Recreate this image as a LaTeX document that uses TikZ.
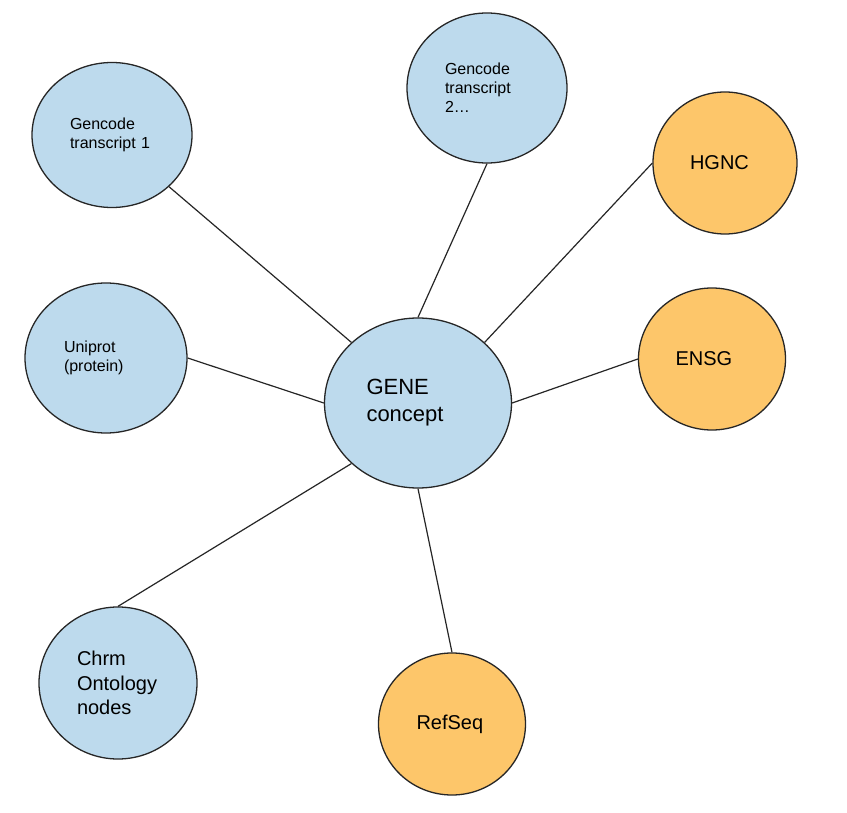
\documentclass[tikz,border=0pt]{standalone}
\usepackage{fontspec}
\setmainfont{Liberation Sans}
\usetikzlibrary{shapes.geometric}
\definecolor{geneblue}{RGB}{189,218,237}
\definecolor{sourceorange}{RGB}{253,198,106}

\begin{document}
\begin{tikzpicture}[x=1pt,y=-1pt]
	\tikzstyle{place}=[ellipse, draw=black!85, line width=1.3pt, inner sep=0pt, align=left]
	\tikzstyle{linked}=[place, fill=geneblue]
	\tikzstyle{source}=[place, fill=sourceorange]
	\tikzstyle{small}=[font=\fontsize{16}{19}\selectfont]
	\tikzstyle{big}=[font=\fontsize{20}{24.5}\selectfont]
	
	\useasboundingbox[fill=white] (0,0) rectangle (847,813);
	
	% Centre
	\node at (418,403) [linked, minimum width=187pt, minimum height=170pt, text width=103pt, font=\fontsize{22}{27}\selectfont] (gene) {GENE\\concept};
	
	% Linked items
	\node at (112,135) [linked, small, minimum width=160pt, minimum height=145pt, text width=84pt] (transcript_1) {Gencode\\transcript 1};
	\node at (487,88) [linked, small, minimum width=160pt, minimum height=150pt, text width=84pt] (transcript_2) {Gencode\\transcript\\2…};
	\node at (106,358) [linked, small, minimum width=162pt, minimum height=150pt, text width=84pt] (uniprot) {Uniprot\\(protein)};
	\node at (118,683) [linked, big, minimum width=158pt, minimum height=152pt, text width=82pt] (chrm) {Chrm\\Ontology\\nodes};
	
	% Sources
	\node at (725,163) [source, big, minimum width=144pt, minimum height=142pt, text width=70pt] (hgnc) {HGNC};
	\node at (712,359) [source, big, minimum width=147pt, minimum height=142pt, text width=73pt] (ensg) {ENSG};
	\node at (452,724) [source, big, minimum width=147pt, minimum height=142pt, text width=71pt] (refseq) {RefSeq};
	
	% Links
	\foreach \a/\b in {transcript_1.south east/gene.north west, transcript_2.south/gene.north, hgnc.west/gene.north east, uniprot.east/gene.west, ensg.west/gene.east, chrm.north/gene.south west, refseq.north/gene.south}
		\draw [black!85, line width=1.2pt] (\a) -- (\b);
\end{tikzpicture}
\end{document}
